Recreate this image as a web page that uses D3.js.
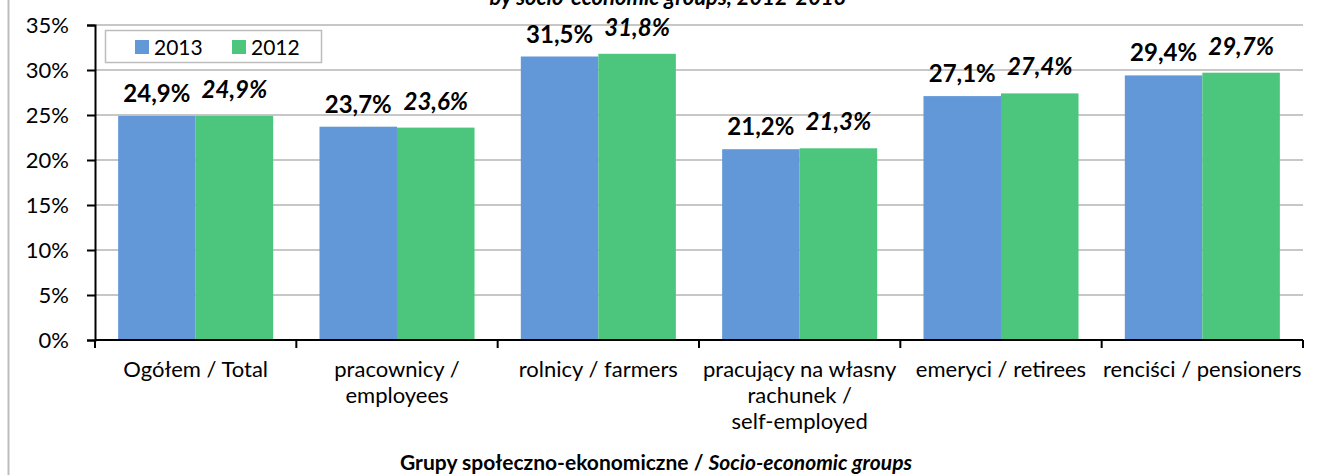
<!DOCTYPE html>
<html>
<head>
<meta charset="utf-8">
<script src="https://cdn.jsdelivr.net/npm/d3@7"></script>
<style>
  body { margin: 0; background: #fff; }
  svg { display: block; font-family: Lato, "Open Sans", sans-serif; }
</style>
</head>
<body>
<div id="chart"></div>
<script>
// data
const categories = [
  "Ogółem / Total",
  "pracownicy /\nemployees",
  "rolnicy / farmers",
  "pracujący na własny\nrachunek /\nself-employed",
  "emeryci / retirees",
  "renciści / pensioners"
];
const series = ["2013", "2012"];
const values2013 = [24.9, 23.7, 31.5, 21.2, 27.1, 29.4];
const values2012 = [24.9, 23.6, 31.8, 21.3, 27.4, 29.7];
const yTicks = [0, 5, 10, 15, 20, 25, 30, 35];

const width = 1318;
const height = 475;
const colors = { "2013": "#6298d8", "2012": "#4bc67c" };

const svg = d3.select('#chart')
  .append('svg')
  .attr('width', width)
  .attr('height', height);

// outer chart frame (only the left edge is in view)
svg.append('line')
  .attr('x1', 8.5).attr('x2', 8.5)
  .attr('y1', 0).attr('y2', height)
  .attr('stroke', '#bdbdbd').attr('stroke-width', 2);

// title, the top of it is cut off like in the source
svg.append('text')
  .attr('x', 668).attr('y', 5)
  .attr('text-anchor', 'middle')
  .attr('font-size', 22).attr('font-weight', 'bold').attr('font-style', 'italic')
  .text('by socio-economic groups, 2012-2013');

const x0 = d3.scaleBand()
  .domain(categories)
  .range([95, 1303])
  .paddingInner(0.23)
  .paddingOuter(0.115);

const x1 = d3.scaleBand()
  .domain(series)
  .range([0, x0.bandwidth()]);

const y = d3.scaleLinear()
  .domain([0, 35])
  .range([340, 25]);

// gridlines
svg.append('g')
  .selectAll('line')
  .data(yTicks.filter(d => d > 0))
  .enter()
  .append('line')
  .attr('x1', 95).attr('x2', 1303)
  .attr('y1', d => y(d)).attr('y2', d => y(d))
  .attr('stroke', '#b4b4b4').attr('stroke-width', 1.5);

// bars
const rows = categories.map((c, i) => ({ cat: c, v: { "2013": values2013[i], "2012": values2012[i] } }));

const groups = svg.append('g')
  .selectAll('g')
  .data(rows)
  .enter()
  .append('g')
  .attr('transform', d => `translate(${x0(d.cat)},0)`);

groups.selectAll('rect')
  .data(d => series.map(s => ({ s: s, v: d.v[s] })))
  .enter()
  .append('rect')
  .attr('x', d => x1(d.s))
  .attr('y', d => y(d.v))
  .attr('width', x1.bandwidth())
  .attr('height', d => y(0) - y(d.v))
  .attr('fill', d => colors[d.s]);

// value labels
const fmt = v => d3.format('.1f')(v).replace('.', ',') + '%';
groups.selectAll('text')
  .data(d => series.map(s => ({ s: s, v: d.v[s] })))
  .enter()
  .append('text')
  .attr('x', d => x1(d.s) + x1.bandwidth() / 2)
  .attr('y', d => y(d.v) - (d.s === '2012' ? 18 : 14))
  .attr('text-anchor', 'middle')
  .attr('font-size', 24)
  .attr('font-weight', 'bold')
  .attr('font-style', d => d.s === '2012' ? 'italic' : 'normal')
  .attr('fill', '#000')
  .text(d => fmt(d.v));

// y axis
const yAxis = svg.append('g')
  .attr('transform', 'translate(95,0)')
  .call(d3.axisLeft(y).tickValues(yTicks).tickFormat(d => d + '%').tickSize(8).tickPadding(18));
yAxis.select('.domain').attr('stroke', '#000').attr('stroke-width', 2);
yAxis.selectAll('.tick line').attr('stroke', '#000').attr('stroke-width', 2);
yAxis.selectAll('.tick text')
  .attr('font-family', 'Lato, sans-serif')
  .attr('font-size', 22)
  .attr('fill', '#000');

// x axis line and ticks at category boundaries
svg.append('line')
  .attr('x1', 95).attr('x2', 1303)
  .attr('y1', 340).attr('y2', 340)
  .attr('stroke', '#000').attr('stroke-width', 2);

const step = x0.step();
svg.append('g')
  .selectAll('line')
  .data(d3.range(categories.length + 1))
  .enter()
  .append('line')
  .attr('x1', i => 95 + i * step).attr('x2', i => 95 + i * step)
  .attr('y1', 340).attr('y2', 348)
  .attr('stroke', '#000').attr('stroke-width', 2);

// category labels
svg.append('g')
  .selectAll('text')
  .data(categories)
  .enter()
  .append('text')
  .attr('x', d => x0(d) + x0.bandwidth() / 2)
  .attr('y', 377)
  .attr('text-anchor', 'middle')
  .attr('font-size', 22)
  .attr('fill', '#000')
  .each(function(d) {
    const t = d3.select(this);
    d.split('\n').forEach((line, i) => {
      t.append('tspan')
        .attr('x', x0(d) + x0.bandwidth() / 2)
        .attr('dy', i === 0 ? 0 : 26)
        .text(line);
    });
  });

// axis title
const title = svg.append('text')
  .attr('x', 656).attr('y', 470)
  .attr('text-anchor', 'middle')
  .attr('font-size', 21)
  .attr('font-weight', 'bold')
  .attr('fill', '#000');
title.append('tspan').text('Grupy społeczno-ekonomiczne / ');
title.append('tspan').attr('font-style', 'italic').text('Socio-economic groups');

// legend
const legend = svg.append('g');
legend.append('rect')
  .attr('x', 105.5).attr('y', 30.5)
  .attr('width', 216).attr('height', 32)
  .attr('fill', '#fff').attr('stroke', '#bdbdbd').attr('stroke-width', 1.5);

const legendX = d3.scaleOrdinal().domain(series).range([135, 232]);
const items = legend.selectAll('g')
  .data(series)
  .enter()
  .append('g')
  .attr('transform', d => `translate(${legendX(d)},0)`);
items.append('rect')
  .attr('x', 0).attr('y', 40)
  .attr('width', 14).attr('height', 14)
  .attr('fill', d => colors[d]);
items.append('text')
  .attr('x', 19).attr('y', 55)
  .attr('font-size', 21)
  .attr('fill', '#000')
  .text(d => d);
</script>
</body>
</html>
